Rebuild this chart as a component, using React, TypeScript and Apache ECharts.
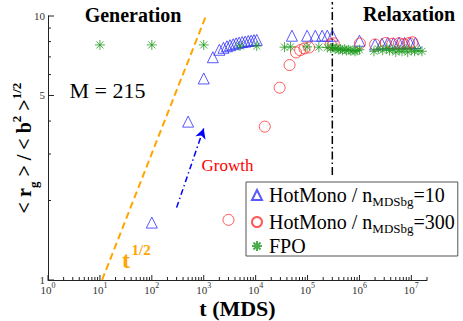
import React, { useEffect, useRef } from 'react';
import * as echarts from 'echarts';

const SERIF = '"Liberation Serif", "Times New Roman", serif';

// HotMono / n_MDSbg = 10  (t in MDS steps, <rg>/<b^2>^(1/2))
const hotMono10: number[][] = [
  [100, 1.65], [500, 3.98], [1000, 5.8], [1500, 6.98],
  [2000, 7.45], [2400, 7.58], [2800, 7.68], [3200, 7.75], [3700, 7.82],
  [4200, 7.88], [4800, 7.93], [5500, 7.97], [6300, 8.0], [7200, 8.04],
  [8200, 8.07], [9300, 8.1], [10500, 8.12],
  [50000, 8.42], [98000, 8.42], [141000, 8.42], [191000, 8.42], [240000, 8.42], [302000, 8.42],
  [1000000, 8.06], [2000000, 7.8], [2700000, 7.85], [3500000, 7.9], [4500000, 7.88],
  [5800000, 7.92], [7400000, 7.9], [9500000, 7.88], [12000000, 7.9],
];

// HotMono / n_MDSbg = 300
const hotMono300: number[][] = [
  [3000, 1.69], [15000, 3.81], [29000, 5.35], [45000, 6.52], [60000, 7.28],
  [72000, 7.42], [87000, 7.54], [107000, 7.6], [280000, 7.82], [320000, 7.88],
  [1020000, 7.87], [2000000, 7.8], [3200000, 7.9], [4300000, 7.85], [5800000, 7.88],
  [7200000, 7.82], [9000000, 7.9], [10500000, 7.95],
];

// FPO
const fpoData: number[][] = [
  [10, 7.77], [100, 7.77], [1000, 7.77], [5000, 7.7], [10500, 7.7],
  [36000, 7.62], [47000, 7.64], [98000, 7.64], [165000, 7.62], [240000, 7.6],
  [280000, 7.55], [310000, 7.6], [340000, 7.5], [370000, 7.55], [400000, 7.45],
  [430000, 7.5], [470000, 7.42], [520000, 7.5], [560000, 7.4], [620000, 7.45],
  [680000, 7.38], [750000, 7.42], [820000, 7.35], [900000, 7.4], [1000000, 7.45],
  [1900000, 7.35], [2300000, 7.5], [2800000, 7.42], [3300000, 7.55], [3800000, 7.4],
  [4400000, 7.48], [5000000, 7.3], [5800000, 7.45], [6600000, 7.35], [7500000, 7.5],
  [8500000, 7.3], [10000000, 7.45], [11500000, 7.35], [13500000, 7.4], [16000000, 7.35],
];

// guide lines
const sqrtGuide: number[][] = [[11, 1], [1100, 10]];
const growthArrow: number[][] = [[300, 1.88], [1000, 3.75]];
const phaseDivider: number[][] = [[300000, 2.5], [300000, 11.3]];

// axes
const xMin = 1;
const xMax = 2e7;
const yMin = 1;
const yMax = 10;
const xDecades = [0, 1, 2, 3, 4, 5, 6, 7];
const yMajorTicks = [1, 5, 10];
const yMinorTicks = [2, 3, 4, 6, 7, 8, 9];
const yExtraLabels = [5];

const seriesNames = ['HotMono / n_MDSbg=10', 'HotMono / n_MDSbg=300', 'FPO'];

const xTickData: number[][] = [];
xDecades.forEach((d) => {
  const base = Math.pow(10, d);
  xTickData.push([base, 1, 1]);
  for (let m = 2; m <= 9; m++) {
    const v = m * base;
    if (v <= xMax) xTickData.push([v, 1, 0]);
  }
});
const yTickData: number[][] = [
  ...yMajorTicks.map((v) => [1, v, 1]),
  ...yMinorTicks.map((v) => [1, v, 0]),
];

const STAR = 'path://M5,0L5,10M0,5L10,5M1.46,1.46L8.54,8.54M1.46,8.54L8.54,1.46';

export default function App() {
  const ref = useRef<HTMLDivElement>(null);
  useEffect(() => {
    if (!ref.current) return;
    const chart = echarts.init(ref.current, undefined, { renderer: 'svg' });
    const axisColor = '#222';
    const option: any = {
      animation: false,
      grid: { left: 48, right: 36, top: 16, bottom: 41, containLabel: false, outerBoundsMode: 'none' },
      xAxis: {
        type: 'log',
        logBase: 10,
        min: xMin,
        max: xMax,
        splitLine: { show: false },
        axisTick: { show: false },
        axisLine: { lineStyle: { color: axisColor, width: 1 } },
        axisLabel: {
          margin: 4,
          color: '#333',
          formatter: (v: number) => {
            const l = Math.log10(v);
            const e = Math.round(l);
            if (Math.abs(l - e) > 1e-6) return '';
            return `{b|10}{s|${e}}`;
          },
          rich: {
            b: { fontSize: 11, fontFamily: SERIF, lineHeight: 12, color: '#333' },
            s: { fontSize: 8, fontFamily: SERIF, lineHeight: 8, padding: [0, 0, 9, 0], color: '#333' },
          },
        },
        name: 't (MDS)',
        nameLocation: 'middle',
        nameGap: 17,
        nameMoveOverlap: false,
        nameTextStyle: { fontSize: 22, fontWeight: 'bold', fontFamily: SERIF, color: '#000', lineHeight: 22 },
      },
      yAxis: {
        type: 'log',
        logBase: 10,
        min: yMin,
        max: yMax,
        splitLine: { show: false },
        axisTick: { show: false },
        axisLine: { lineStyle: { color: axisColor, width: 1 } },
        axisLabel: {
          margin: 3,
          fontSize: 11,
          lineHeight: 8,
          fontFamily: SERIF,
          color: '#333',
          formatter: (v: number) => String(Math.round(v)),
        },
        name: '{b|< r}{sub|g}{b| > / < b}{sup|2}{b| >}{sup|1/2}',
        nameLocation: 'middle',
        nameRotate: 90,
        nameGap: 13,
        nameMoveOverlap: false,
        nameTextStyle: {
          rich: {
            b: { fontSize: 20, fontWeight: 'bold', fontFamily: SERIF, lineHeight: 22, color: '#000' },
            sup: { fontSize: 13, fontWeight: 'bold', fontFamily: SERIF, lineHeight: 13, padding: [0, 0, 16, 0], color: '#000' },
            sub: { fontSize: 13, fontWeight: 'bold', fontFamily: SERIF, lineHeight: 13, padding: [18, 0, 0, 0], color: '#000' },
          },
        },
      },
      legend: {
        data: seriesNames,
        orient: 'vertical',
        left: 246,
        top: 182,
        padding: [0, 3, 0, 5],
        itemGap: 1,
        itemWidth: 10,
        itemHeight: 10,
        backgroundColor: '#fff',
        borderColor: '#555',
        borderWidth: 1,
        borderRadius: 0,
        formatter: (name: string) => {
          if (name === 'FPO') return '{b|FPO}';
          const n = name.split('=')[1];
          return `{b|HotMono / n}{s|MDSbg}{b|=${n}}`;
        },
        textStyle: {
          padding: [0, 0, 0, 2],
          rich: {
            b: { fontSize: 20, fontFamily: SERIF, lineHeight: 21, color: '#000' },
            s: { fontSize: 13, fontFamily: SERIF, lineHeight: 13, padding: [13, 0, 0, 0], color: '#000' },
          },
        },
      },
      series: [
        {
          name: 'tLine',
          type: 'line',
          data: sqrtGuide,
          symbol: 'none',
          silent: true,
          lineStyle: { color: '#ffa500', width: 2, type: [7, 4] },
          z: 3,
        },
        {
          name: 'divider',
          type: 'line',
          data: phaseDivider,
          symbol: 'none',
          silent: true,
          clip: false,
          lineStyle: { color: '#000', width: 1.5, type: [8, 3, 1.5, 3] },
          z: 3,
          markLine: {
            silent: true,
            symbol: ['none', 'arrow'],
            symbolSize: [8, 10],
            label: { show: false },
            lineStyle: { color: '#0000ff', width: 1.5, type: [6, 3, 1.5, 3] },
            data: [[{ coord: growthArrow[0] }, { coord: growthArrow[1] }]],
          },
        },
        {
          name: seriesNames[0],
          type: 'scatter',
          data: hotMono10,
          symbol: 'triangle',
          symbolSize: 11,
          itemStyle: { color: 'transparent', borderColor: '#3030ff', borderWidth: 1 },
          emphasis: { disabled: true },
          z: 4,
        },
        {
          name: seriesNames[1],
          type: 'scatter',
          data: hotMono300,
          symbol: 'circle',
          symbolSize: 11,
          itemStyle: { color: 'transparent', borderColor: '#ff3030', borderWidth: 1 },
          emphasis: { disabled: true },
          z: 4,
        },
        {
          name: seriesNames[2],
          type: 'scatter',
          data: fpoData,
          symbol: STAR,
          symbolSize: 10,
          itemStyle: { color: 'transparent', borderColor: '#1f9a1f', borderWidth: 1 },
          emphasis: { disabled: true },
          z: 4,
        },
        {
          name: 'xTicks',
          type: 'custom',
          silent: true,
          data: xTickData,
          z: 5,
          renderItem: (params: any, api: any) => {
            const p = api.coord([api.value(0), yMin]);
            const len = api.value(2) ? 5 : 3;
            return {
              type: 'line',
              shape: { x1: p[0], y1: p[1], x2: p[0], y2: p[1] - len },
              style: { stroke: axisColor, lineWidth: 1 },
            };
          },
        },
        {
          name: 'yTicks',
          type: 'custom',
          silent: true,
          data: yTickData,
          z: 5,
          renderItem: (params: any, api: any) => {
            const v = api.value(1);
            const p = api.coord([xMin, v]);
            const len = api.value(2) ? 6 : 3;
            const children: any[] = [
              {
                type: 'line',
                shape: { x1: p[0], y1: p[1], x2: p[0] + len, y2: p[1] },
                style: { stroke: axisColor, lineWidth: 1 },
              },
            ];
            if (yExtraLabels.indexOf(v) >= 0) {
              children.push({
                type: 'text',
                x: p[0] - 3,
                y: p[1],
                style: {
                  text: String(v),
                  fontSize: 11,
                  fontFamily: SERIF,
                  fill: '#333',
                  align: 'right',
                  verticalAlign: 'middle',
                },
              });
            }
            return { type: 'group', children };
          },
        },
      ],
      graphic: [
        {
          type: 'text', x: 133, y: 14.5,
          style: { text: 'Generation', font: `bold 20px ${SERIF}`, fill: '#000', align: 'center', verticalAlign: 'middle', textAlign: 'center', textVerticalAlign: 'middle' },
        },
        {
          type: 'text', x: 409, y: 14.2,
          style: { text: 'Relaxation', font: `bold 20px ${SERIF}`, fill: '#000', align: 'center', verticalAlign: 'middle', textAlign: 'center', textVerticalAlign: 'middle' },
        },
        {
          type: 'text', x: 107.5, y: 90.7,
          style: { text: 'M = 215', font: `22px ${SERIF}`, fill: '#000', align: 'center', verticalAlign: 'middle', textAlign: 'center', textVerticalAlign: 'middle' },
        },
        {
          type: 'text', x: 227.5, y: 165,
          style: { text: 'Growth', font: `17px ${SERIF}`, fill: '#ff0000', align: 'center', verticalAlign: 'middle', textAlign: 'center', textVerticalAlign: 'middle' },
        },
        {
          type: 'text', x: 122, y: 260,
          style: { text: 't', font: `bold 24px ${SERIF}`, fill: '#ffa500', align: 'left', verticalAlign: 'middle', textAlign: 'left', textVerticalAlign: 'middle' },
        },
        {
          type: 'text', x: 131.5, y: 250,
          style: { text: '1/2', font: `bold 15px ${SERIF}`, fill: '#ffa500', align: 'left', verticalAlign: 'middle', textAlign: 'left', textVerticalAlign: 'middle' },
        },
      ],
    };
    chart.setOption(option);
    return () => chart.dispose();
  }, []);
  return (
    <div
      ref={ref}
      style={{ position: 'fixed', left: 0, top: 0, width: 463, height: 321, background: '#fff' }}
    />
  );
}
